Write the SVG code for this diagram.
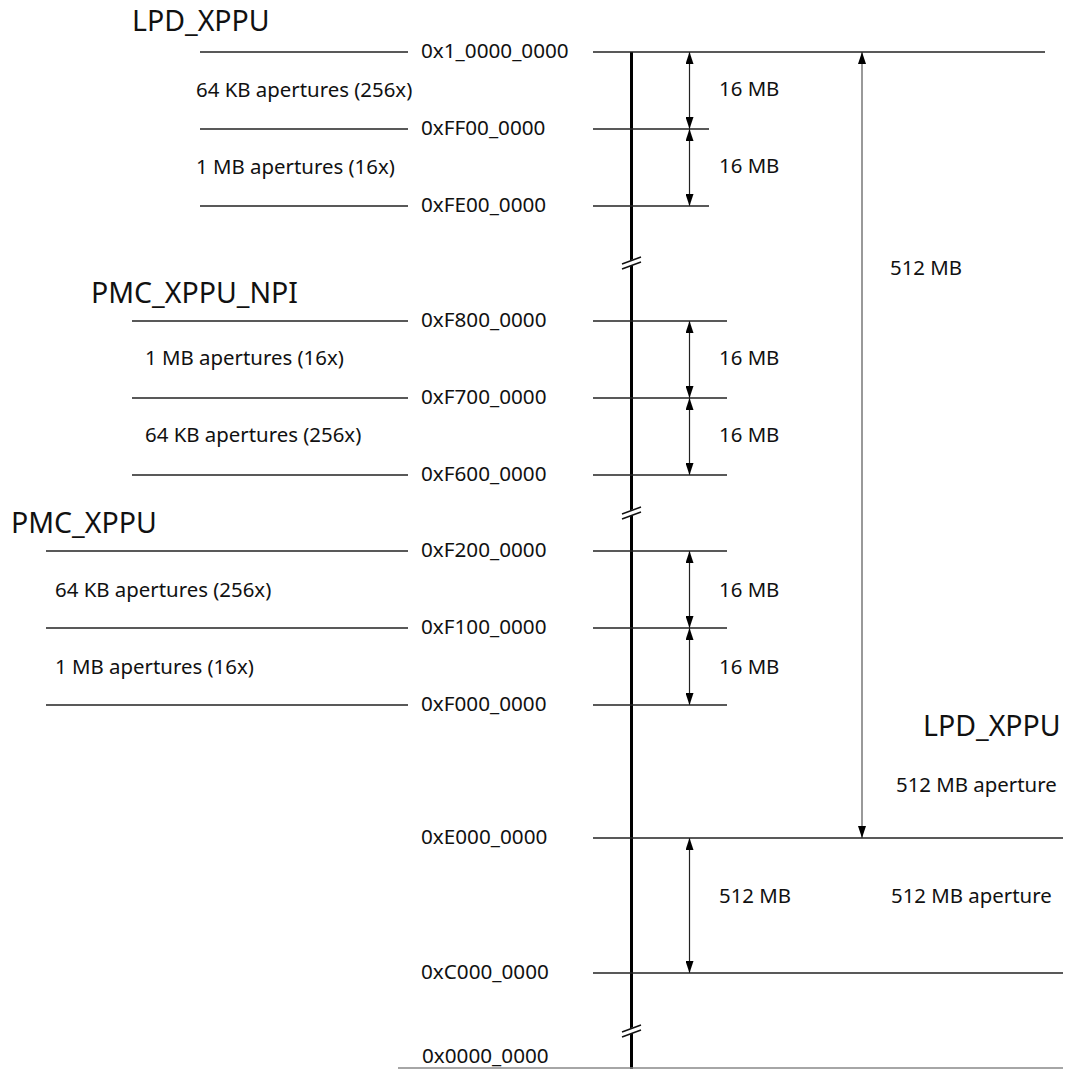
<svg xmlns="http://www.w3.org/2000/svg" width="1073" height="1069" viewBox="0 0 1073 1069">
<style>
text{font-family:"Noto Sans","Open Sans","Liberation Sans",sans-serif;fill:#111;}
.t{font-size:28.5px;}
.a{font-size:20.7px;}
.l{font-size:20.4px;}
.h{stroke:#222;stroke-width:1.5;fill:none;}
.g{stroke:#888;stroke-width:1.5;fill:none;}
.d{stroke:#222;stroke-width:1.2;fill:none;marker-start:url(#ah);marker-end:url(#ah);}
.big{stroke:#777;stroke-width:1.5;fill:none;marker-start:url(#ah);marker-end:url(#ah);}
.sl{stroke:#111;stroke-width:1.5;fill:none;}
</style>
<defs>
<marker id="ah" viewBox="0 0 12 8" refX="12" refY="4" markerWidth="12" markerHeight="8" markerUnits="userSpaceOnUse" orient="auto-start-reverse">
<path d="M0,0 L12,4 L0,8 Z" fill="#000"/>
</marker>
</defs>
<rect width="1073" height="1069" fill="#fff"/>

<g id="axis">
<line x1="631.5" y1="52" x2="631.5" y2="1069" stroke="#000" stroke-width="3"/>
</g>

<g id="connectors">
<line class="d" x1="689.5" y1="52" x2="689.5" y2="129"/>
<line class="d" x1="689.5" y1="129" x2="689.5" y2="206"/>
<line class="d" x1="689.5" y1="321" x2="689.5" y2="398"/>
<line class="d" x1="689.5" y1="398" x2="689.5" y2="475"/>
<line class="d" x1="689.5" y1="551" x2="689.5" y2="628"/>
<line class="d" x1="689.5" y1="628" x2="689.5" y2="705"/>
<line class="d" x1="689.5" y1="838" x2="689.5" y2="973"/>
<line class="big" x1="862" y1="52" x2="862" y2="838"/>
</g>

<g id="lpd-xppu">
<text class="t" x="132" y="31">LPD_XPPU</text>
<line class="h" x1="200" y1="52" x2="408" y2="52"/>
<line class="h" x1="593" y1="52" x2="1045" y2="52"/>
<text class="a" x="421" y="58">0x1_0000_0000</text>
<text class="l" x="196" y="97">64 KB apertures (256x)</text>
<line class="h" x1="200" y1="129" x2="408" y2="129"/>
<line class="h" x1="593" y1="129" x2="709" y2="129"/>
<text class="a" x="421" y="135">0xFF00_0000</text>
<text class="l" x="196" y="174">1 MB apertures (16x)</text>
<line class="h" x1="200" y1="206" x2="408" y2="206"/>
<line class="h" x1="593" y1="206" x2="709" y2="206"/>
<text class="a" x="421" y="212">0xFE00_0000</text>
<text class="l" x="719" y="96">16 MB</text>
<text class="l" x="719" y="173">16 MB</text>
</g>

<g id="pmc-xppu-npi">
<text class="t" x="91" y="303">PMC_XPPU_NPI</text>
<line class="h" x1="132" y1="321" x2="408" y2="321"/>
<line class="h" x1="593" y1="321" x2="727" y2="321"/>
<text class="a" x="421" y="327">0xF800_0000</text>
<text class="l" x="145" y="365">1 MB apertures (16x)</text>
<line class="h" x1="132" y1="398" x2="408" y2="398"/>
<line class="h" x1="593" y1="398" x2="727" y2="398"/>
<text class="a" x="421" y="404">0xF700_0000</text>
<text class="l" x="145" y="442">64 KB apertures (256x)</text>
<line class="h" x1="132" y1="475" x2="408" y2="475"/>
<line class="h" x1="593" y1="475" x2="727" y2="475"/>
<text class="a" x="421" y="481">0xF600_0000</text>
<text class="l" x="719" y="365">16 MB</text>
<text class="l" x="719" y="442">16 MB</text>
</g>

<g id="pmc-xppu">
<text class="t" x="11" y="533">PMC_XPPU</text>
<line class="h" x1="46" y1="551" x2="408" y2="551"/>
<line class="h" x1="593" y1="551" x2="727" y2="551"/>
<text class="a" x="421" y="557">0xF200_0000</text>
<text class="l" x="55" y="597">64 KB apertures (256x)</text>
<line class="h" x1="46" y1="628" x2="408" y2="628"/>
<line class="h" x1="593" y1="628" x2="727" y2="628"/>
<text class="a" x="421" y="634">0xF100_0000</text>
<text class="l" x="55" y="674">1 MB apertures (16x)</text>
<line class="h" x1="46" y1="705" x2="408" y2="705"/>
<line class="h" x1="593" y1="705" x2="727" y2="705"/>
<text class="a" x="421" y="711">0xF000_0000</text>
<text class="l" x="719" y="597">16 MB</text>
<text class="l" x="719" y="674">16 MB</text>
</g>

<g id="lpd-512">
<text class="l" x="890" y="275">512 MB</text>
<text class="t" x="923" y="736">LPD_XPPU</text>
<text class="l" x="896" y="792">512 MB aperture</text>
<line class="h" x1="593" y1="838" x2="1063" y2="838"/>
<text class="a" x="421" y="844">0xE000_0000</text>
<text class="l" x="719" y="903">512 MB</text>
<text class="l" x="891" y="903">512 MB aperture</text>
<line class="h" x1="593" y1="973" x2="1063" y2="973"/>
<text class="a" x="421" y="979">0xC000_0000</text>
</g>

<g id="bottom">
<line class="g" x1="398" y1="1068" x2="1063" y2="1068"/>
<text class="a" x="422" y="1063">0x0000_0000</text>
</g>

<g id="breaks">
<polygon points="620,264 642,256 642,262 620,270" fill="#fff"/>
<line class="sl" x1="622" y1="264" x2="641" y2="257"/>
<line class="sl" x1="622" y1="269" x2="641" y2="262"/>
<polygon points="620,514 642,506 642,512 620,520" fill="#fff"/>
<line class="sl" x1="622" y1="514" x2="641" y2="507"/>
<line class="sl" x1="622" y1="519" x2="641" y2="512"/>
<polygon points="620,1032 642,1024 642,1030 620,1038" fill="#fff"/>
<line class="sl" x1="622" y1="1032" x2="641" y2="1025"/>
<line class="sl" x1="622" y1="1037" x2="641" y2="1030"/>
</g>
</svg>
